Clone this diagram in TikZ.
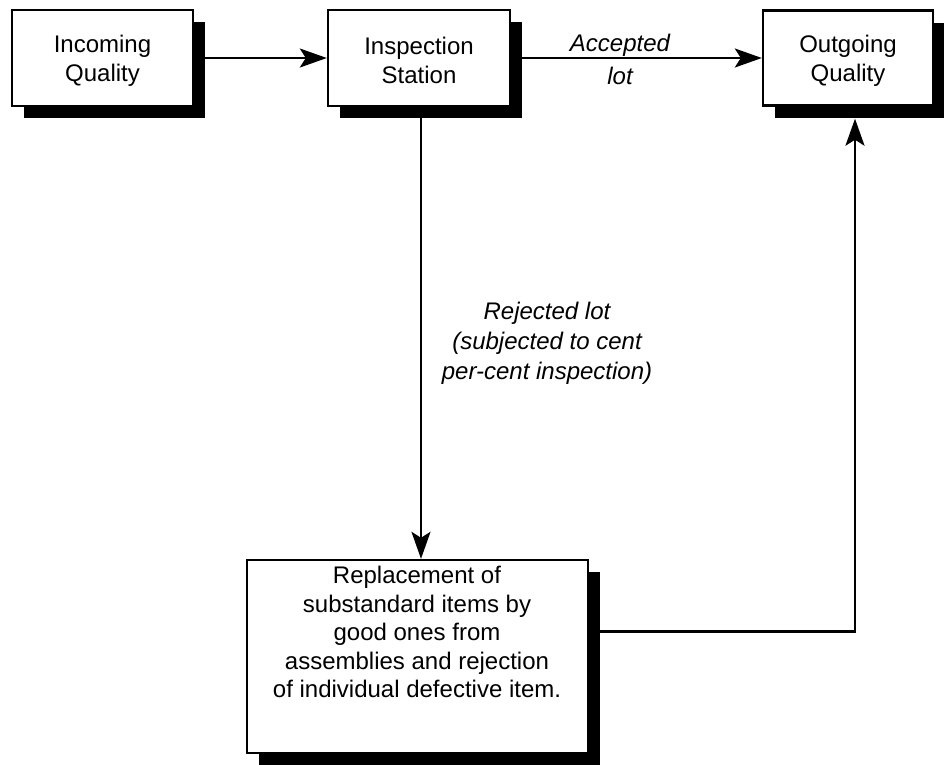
\documentclass[tikz,border=0pt]{standalone}
\usepackage{fontspec}
\setmainfont{Liberation Sans}
\usetikzlibrary{arrows.meta,shadows}
\newcommand{\toppad}{\rule{0pt}{23pt}}
\begin{document}
\begin{tikzpicture}[x=1pt,y=-1pt,
  flowbox/.style={draw=black, line width=2.4pt, fill=white, rectangle, inner sep=0pt,
    drop shadow={shadow xshift=12pt, shadow yshift=-12pt, fill=black, opacity=1}},
  boxtext/.style={font=\fontsize{24}{29}\selectfont, align=center, inner sep=0pt},
  labeltext/.style={font=\fontsize{24}{30}\selectfont\itshape, align=center, inner sep=0pt},
  flow/.style={line width=2.2pt, -{Stealth[length=27pt, width=19pt, inset=6pt]}}]
  \useasboundingbox[fill=white] (0,0) rectangle (944,764);

  % process boxes
  \node[flowbox, minimum width=181pt, minimum height=96pt, boxtext] (inq) at (102.5,58)
    {\toppad Incoming\\Quality};
  \node[flowbox, minimum width=182pt, minimum height=96pt, boxtext] (insp) at (419,58)
    {\toppad Inspection\\Station};
  \node[flowbox, minimum width=170pt, minimum height=95pt, boxtext] (outq) at (848,58)
    {\toppad Outgoing\\Quality};
  \node[flowbox, minimum width=341pt, minimum height=193pt] (repl) at (417.5,656.5) {};
  \node[boxtext, font=\fontsize{24}{28.5}\selectfont] (repltext) at (417,632)
    {Replacement of\\substandard items by\\good ones from\\assemblies and rejection\\of individual defective item.};

  % connectors
  \draw[flow] (inq.east) -- (insp.west);
  \draw[flow] (insp.east) -- (outq.west);
  \draw[flow] ([xshift=2pt]insp.south) -- ([xshift=2pt]insp.south |- repl.north);
  \coordinate (outin) at ([xshift=7pt,yshift=-12pt]outq.south);
  \draw[flow] ([yshift=25pt]repl.east) -| (outin);

  % connector labels
  \node[labeltext, font=\fontsize{24}{33}\selectfont\itshape] (acc) at (620,59) {Accepted\\lot};
  \node[labeltext] (rej) at (547,343)
    {Rejected lot\\(subjected to cent\\per-cent inspection)};
\end{tikzpicture}
\end{document}
